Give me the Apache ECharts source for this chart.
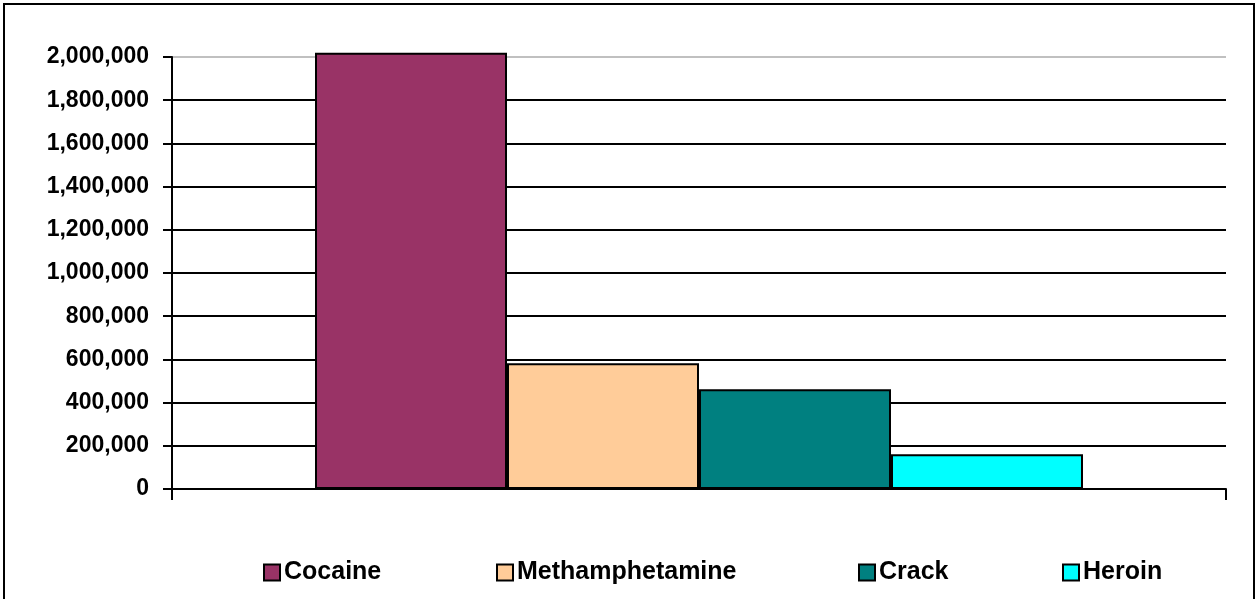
<!DOCTYPE html>
<html><head><meta charset="utf-8">
<script src="https://cdn.jsdelivr.net/npm/echarts@6/dist/echarts.min.js"></script>
<style>
html,body{margin:0;padding:0;background:#fff;}
#frame{position:absolute;left:3px;top:3px;width:1252px;height:620px;border:2px solid #000;box-sizing:border-box;}
#c{position:absolute;left:0;top:0;width:1260px;height:599px;}
</style></head>
<body>
<div id="frame"></div>
<div id="c"></div>
<script>
var categories = [''];
var seriesNames = ['Cocaine', 'Methamphetamine', 'Crack', 'Heroin'];
var cocaine = [2020000];
var methamphetamine = [582000];
var crack = [462000];
var heroin = [161000];
var seriesColors = ['#993366', '#FFCC99', '#008080', '#00FFFF'];
var seriesValues = [cocaine, methamphetamine, crack, heroin];
var legendLeft = [258, 491, 853, 1057];

var chart = echarts.init(document.getElementById('c'));
var gridColors = ['#000','#000','#000','#000','#000','#000','#000','#000','#000','#000','#c0c0c0'];
var series = seriesNames.map(function(n, i){
  return {
    name: n, type: 'bar', data: seriesValues[i], barWidth: 192, barGap: '0%', clip: false,
    itemStyle: {color: seriesColors[i], borderColor: '#000', borderWidth: 2}
  };
});
var legends = seriesNames.map(function(n, i){
  return {
    data: [n], left: legendLeft[i], top: 555, itemWidth: 16, itemHeight: 16, itemGap: 0,
    icon: 'rect',
    itemStyle: {borderColor: '#000', borderWidth: 2},
    textStyle: {fontFamily: 'Liberation Sans, Arial', fontWeight: 'bold', fontSize: 25, color: '#000', padding: [0,0,0,-1]}
  };
});
chart.setOption({
  animation: false,
  grid: {left: 172, right: 34, top: 57, bottom: 110, containLabel: false},
  legend: legends,
  xAxis: {
    type: 'category', data: categories, boundaryGap: true,
    axisLine: {lineStyle: {color: '#000', width: 2}},
    axisTick: {show: true, length: 11, lineStyle: {color: '#000', width: 2}},
    axisLabel: {show: false}
  },
  yAxis: {
    type: 'value', min: 0, max: 2000000, interval: 200000,
    axisLine: {show: true, lineStyle: {color: '#000', width: 2}},
    axisTick: {show: true, length: 9, lineStyle: {color: '#000', width: 2}},
    axisLabel: {
      color: '#000', fontFamily: 'Liberation Sans, Arial', fontWeight: 'bold', fontSize: 23, margin: 23,
      formatter: function(v){ return v.toLocaleString('en-US'); }
    },
    splitLine: {show: true, lineStyle: {color: gridColors, width: 2}}
  },
  series: series
});
</script>
</body></html>
